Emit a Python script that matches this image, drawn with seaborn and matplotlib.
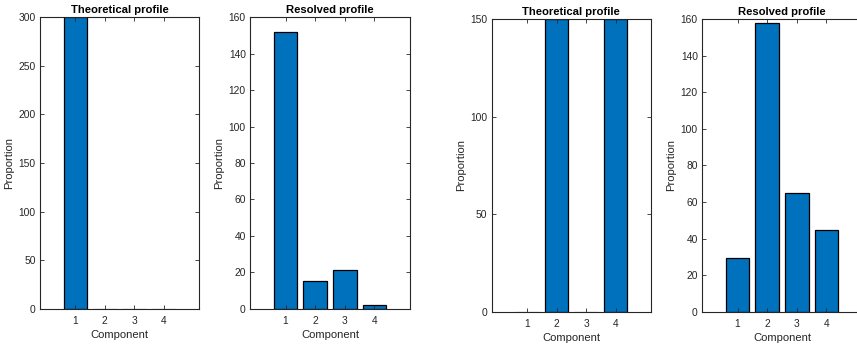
import matplotlib
matplotlib.use("Agg")
import matplotlib.pyplot as plt
import seaborn as sns
import pandas as pd

sns.set_theme(style="white")
plt.rcParams["font.family"] = ["Liberation Sans", "DejaVu Sans"]

components = [1, 2, 3, 4]
theoretical_a = [300, 0, 0, 0]
resolved_a = [152, 15, 21.2, 2]
theoretical_b = [0, 150, 0, 150]
resolved_b = [29.5, 157.7, 65.1, 44.5]

panels = [
    ("Theoretical profile", theoretical_a, 300, [0, 50, 100, 150, 200, 250, 300]),
    ("Resolved profile", resolved_a, 160, list(range(0, 161, 20))),
    ("Theoretical profile", theoretical_b, 150, [0, 50, 100, 150]),
    ("Resolved profile", resolved_b, 160, list(range(0, 161, 20))),
]

W, H = 857, 345
# axes boxes in pixels: left, right, top, bottom
boxes = [
    (40, 199, 17.3, 308.7),
    (250, 410, 17.3, 308.7),
    (491.7, 651, 19, 311.7),
    (702, 862, 19, 311.7),
]

ink = "#262626"
fig = plt.figure(figsize=(W / 100, H / 100), dpi=100)
fig.patch.set_facecolor("white")

for (title, values, ymax, yticks), (l, r, t, b) in zip(panels, boxes):
    ax = fig.add_axes([l / W, 1 - b / H, (r - l) / W, (b - t) / H])
    df = pd.DataFrame({"Component": components, "Proportion": values})
    sns.barplot(data=df, x="Component", y="Proportion", native_scale=True,
                color="#0072BD", saturation=1, edgecolor="black",
                linewidth=0.9, ax=ax, errorbar=None)
    # empty components only leave a faint outline on the baseline
    for patch, v in zip(ax.patches, values):
        if v == 0:
            patch.set_edgecolor("#9a9a9a")
    ax.set_xlim(-0.2, 5.2)
    ax.set_ylim(0, ymax)
    ax.set_xticks(components)
    ax.set_xticklabels([str(c) for c in components])
    ax.set_yticks(yticks)
    ax.set_title(title, fontsize=8.1, fontweight="bold", color="black", pad=3)
    ax.set_xlabel("Component", fontsize=8.1, color=ink, labelpad=3)
    ax.set_ylabel("Proportion", fontsize=8.1, color=ink, labelpad=3)
    ax.tick_params(axis="both", direction="in", length=3, width=0.6,
                   left=True, bottom=True, top=True, right=True,
                   labelsize=7.4, colors=ink)
    ax.tick_params(axis="x", pad=5)
    ax.tick_params(axis="y", pad=3)
    for s in ax.spines.values():
        s.set_visible(True)
        s.set_color(ink)
        s.set_linewidth(0.8)
    ax.set_axisbelow(False)

fig.savefig("out.png", dpi=100, facecolor="white")
